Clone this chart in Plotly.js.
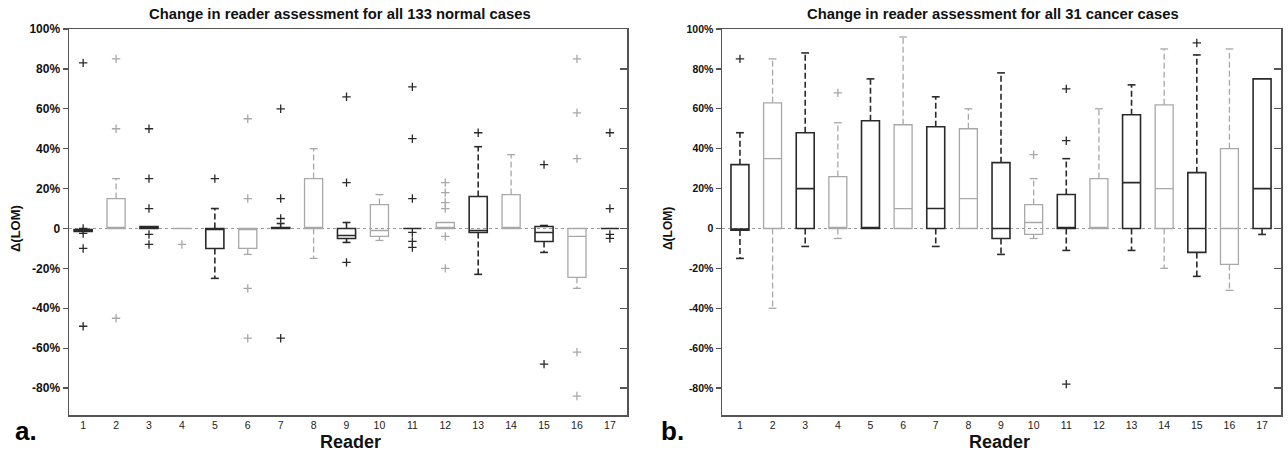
<!DOCTYPE html>
<html>
<head>
<meta charset="utf-8">
<script src="https://cdn.plot.ly/plotly-3.0.1.min.js"></script>
<style>html,body{margin:0;padding:0;background:#fff;}#chart{width:1288px;height:458px;}</style>
</head>
<body>
<div id="chart"></div>
<script>
// ---------- data ----------
const readers = [1,2,3,4,5,6,7,8,9,10,11,12,13,14,15,16,17];
const yTickVals = [-80,-60,-40,-20,0,20,40,60,80,100];
const yTickText = ["-80%","-60%","-40%","-20%","0","20%","40%","60%","80%","100%"];
const titleA = "Change in reader assessment for all 133 normal cases";
const titleB = "Change in reader assessment for all 31 cancer cases";

// Panel a: 133 normal cases (values in %)
const aQ1  = [-1.5, 0, 0,   0, -10, -10, 0,   0, -5,  -4, 0,   0, -2, 0,  -6.5, -24.5, 0];
const aMed = [-1,   0, 0.5, 0, 0,   0,   0,   0, -3.5, -1, 0,   0, -1, 0,  -2,   -4,    0];
const aQ3  = [-0.5, 15, 1,  0, 0,   0,   0.5, 25, 0,  12, 0,   3, 16, 17, 1,    0,     0];
const aLo  = [-1.5, 0, 0,   0, -25, -13, 0,  -15, -7, -6, 0,   0, -23, 0, -12,  -30,   0];
const aHi  = [-0.5, 25, 1,  0, 10,  0,   2.5, 40, 3,  17, 0,   3, 41, 37, 1.5,  0,     0];
const aOut = [[83,0,-2.5,-10,-49],[85,50,-45],[50,25,10,-3,-8],[-8],[25],[55,15,-30,-55],
              [60,15,5,-55],[],[66,23,-17],[],[71,45,15,-2,-6.5,-9.5],[23,18,13,10,-4,-20],
              [48],[],[32,-68],[85,58,35,-62,-84],[48,10,-3,-5]];

// Panel b: 31 cancer cases (values in %)
const bQ1  = [-0.8, 0,  0,  0,  0,  0,  0,  0,  -5, -3, 0,  0,  0,  0,  -12, -18, 0];
const bMed = [-0.5, 35, 20, 0,  0,  10, 10, 15, 0,  3,  0,  0,  23, 20, 0,   0,   20];
const bQ3  = [32,   63, 48, 26, 54, 52, 51, 50, 33, 12, 17, 25, 57, 62, 28,  40,  75];
const bLo  = [-15, -40, -9, -5, 0,  0,  -9, 0,  -13, -5, -11, 0, -11, -20, -24, -31, -3];
const bHi  = [48,   85, 88, 53, 75, 96, 66, 60, 78, 25, 35, 60, 72, 90, 87,  90,  75];
const bOut = [[85],[],[],[68],[],[],[],[],[],[37],[70,44,-78],[],[],[],[93],[],[]];

// ---------- styles ----------
const DARK = "#2a2a2a", GRAY = "#a8a8a8";
const CAP = 0.12;

function panel(q1, med, q3, lo, hi, out, xa, ya) {
  const traces = [];
  [0, 1].forEach(function (parity) {
    const color = parity === 0 ? DARK : GRAY;
    const lw = parity === 0 ? 1.6 : 1.3;
    const idx = readers.map((r, i) => i).filter(i => i % 2 === parity);
    traces.push({
      type: "box", xaxis: xa, yaxis: ya,
      x: idx.map(i => readers[i]),
      q1: idx.map(i => q1[i]), median: idx.map(i => med[i]), q3: idx.map(i => q3[i]),
      lowerfence: idx.map(i => q1[i]), upperfence: idx.map(i => q3[i]),
      width: 0.55, whiskerwidth: 0,
      line: {color: color, width: lw}, fillcolor: "rgba(0,0,0,0)",
      boxpoints: false, showlegend: false, hoverinfo: "skip"
    });
    const wx = [], wy = [], cx = [], cy = [];
    idx.forEach(function (i) {
      const r = readers[i];
      if (hi[i] > q3[i]) {
        wx.push(r, r, null); wy.push(q3[i], hi[i], null);
        cx.push(r - CAP, r + CAP, null); cy.push(hi[i], hi[i], null);
      }
      if (lo[i] < q1[i]) {
        wx.push(r, r, null); wy.push(q1[i], lo[i], null);
        cx.push(r - CAP, r + CAP, null); cy.push(lo[i], lo[i], null);
      }
    });
    traces.push({type: "scatter", mode: "lines", xaxis: xa, yaxis: ya, x: wx, y: wy,
      line: {color: color, width: lw, dash: "6px,3px"}, showlegend: false, hoverinfo: "skip"});
    traces.push({type: "scatter", mode: "lines", xaxis: xa, yaxis: ya, x: cx, y: cy,
      line: {color: color, width: lw}, showlegend: false, hoverinfo: "skip"});
    const ox = [], oy = [];
    idx.forEach(function (i) { out[i].forEach(function (v) { ox.push(readers[i]); oy.push(v); }); });
    traces.push({type: "scatter", mode: "markers", xaxis: xa, yaxis: ya, x: ox, y: oy,
      marker: {symbol: "cross-thin-open", size: 6, color: color, line: {color: color, width: 1.3}},
      showlegend: false, hoverinfo: "skip"});
  });
  return traces;
}

// empty traces so the right-hand (inward tick) axes are created
const axisHolders = [
  {type: "scatter", mode: "markers", xaxis: "x", yaxis: "y3", x: [], y: [], showlegend: false, hoverinfo: "skip"},
  {type: "scatter", mode: "markers", xaxis: "x2", yaxis: "y4", x: [], y: [], showlegend: false, hoverinfo: "skip"}
];

const data = [].concat(
  panel(aQ1, aMed, aQ3, aLo, aHi, aOut, "x", "y"),
  panel(bQ1, bMed, bQ3, bLo, bHi, bOut, "x2", "y2"),
  axisHolders
);

const W = 1288, H = 458;
const yDom = [(H - 415) / H, (H - 29) / H];
const yRange = [-93.5, 100];
const FONT = "Liberation Sans, Arial, sans-serif";

function xAxis(dom, range, anchor) {
  return {domain: dom, range: range, anchor: anchor, tickvals: readers, ticktext: readers.map(String),
    ticks: "", showgrid: false, zeroline: false, showline: true, mirror: true,
    linecolor: "#555", linewidth: 1.5, tickfont: {family: FONT, size: 10.5, color: "#222"}, ticklabelstandoff: 0};
}
function yAxis(anchor, size) {
  return {domain: yDom, range: yRange, anchor: anchor, tickvals: yTickVals, ticktext: yTickText,
    ticks: "outside", ticklen: 5, tickcolor: "#555", tickwidth: 1.3, showgrid: false, zeroline: false,
    showline: true, mirror: true, linecolor: "#555", linewidth: 1.5,
    tickfont: {family: FONT, size: size, color: "#111", weight: "bold"}};
}
function yRight(anchor, over) {
  return {domain: yDom, range: yRange, anchor: anchor, overlaying: over, side: "right",
    tickvals: yTickVals, ticks: "inside", ticklen: 7, tickcolor: "#555", tickwidth: 1.3,
    showticklabels: false, showgrid: false, zeroline: false, showline: false};
}
function note(text, xpx, ypx, size, extra) {
  return Object.assign({text: text, xref: "paper", yref: "paper", x: xpx / W, y: 1 - ypx / H,
    xanchor: "center", yanchor: "middle", showarrow: false,
    font: {family: FONT, size: size, color: "#111", weight: "bold"}}, extra || {});
}

const layout = {
  width: W, height: H, margin: {l: 0, r: 0, t: 0, b: 0},
  paper_bgcolor: "#fff", plot_bgcolor: "#fff", boxmode: "overlay", showlegend: false,
  font: {family: FONT},
  xaxis: xAxis([69 / W, 627 / W], [0.57, 17.52], "y"),
  yaxis: yAxis("x", 12),
  xaxis2: xAxis([722 / W, 1281 / W], [0.45, 17.58], "y2"),
  yaxis2: yAxis("x2", 10.5),
  yaxis3: yRight("x", "y"),
  yaxis4: yRight("x2", "y2"),
  shapes: [
    {type: "line", xref: "x domain", yref: "y", x0: 0, x1: 1, y0: 0, y1: 0, layer: "below",
     line: {color: "#9a9a9a", width: 1.2, dash: "dot"}},
    {type: "line", xref: "x2 domain", yref: "y2", x0: 0, x1: 1, y0: 0, y1: 0, layer: "below",
     line: {color: "#9a9a9a", width: 1.2, dash: "dot"}}
  ],
  annotations: [
    note(titleA, 340, 14, 14.8),
    note(titleB, 993, 14, 14.8),
    note("Reader", 350, 442, 18),
    note("Reader", 999, 442, 18),
    note("Δ(LOM)", 15, 229, 13, {textangle: -90}),
    note("Δ(LOM)", 668, 229, 12, {textangle: -90}),
    note("a.", 26, 431, 26, {font: {family: FONT, size: 26, color: "#000", weight: "bold"}}),
    note("b.", 672, 431, 26, {font: {family: FONT, size: 26, color: "#000", weight: "bold"}})
  ]
};

Plotly.newPlot("chart", data, layout, {staticPlot: true, displayModeBar: false});
</script>
</body>
</html>
